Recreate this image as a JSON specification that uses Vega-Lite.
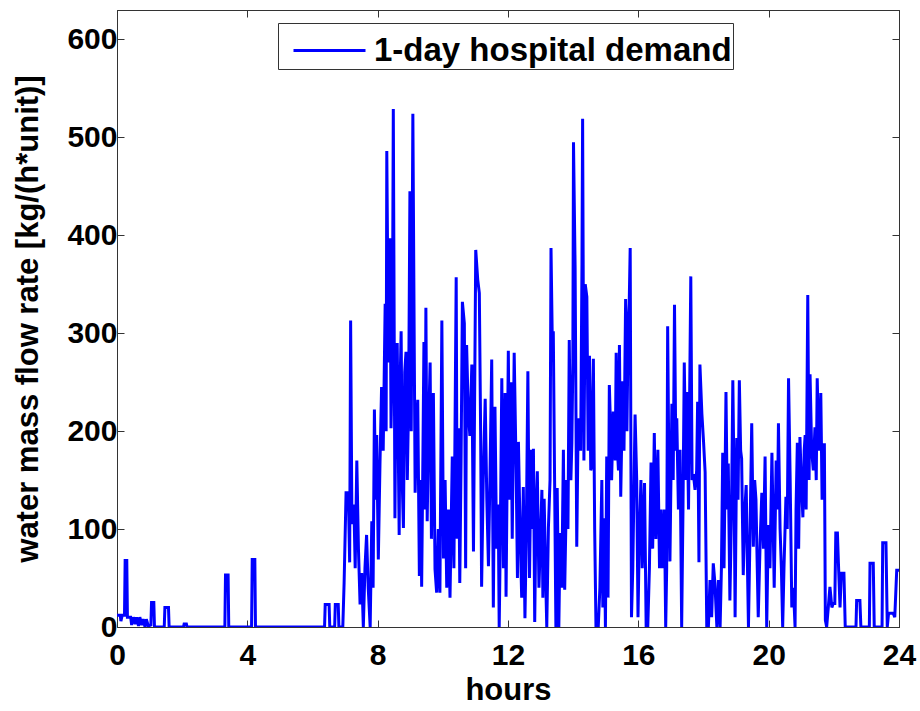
{
  "$schema": "https://vega.github.io/schema/vega-lite/v6.json",
  "width": 782,
  "height": 617,
  "autosize": {"type": "none"},
  "padding": {"left": 117, "top": 10, "right": 21, "bottom": 84},
  "background": "white",
  "config": {
    "view": {"stroke": "#333", "strokeWidth": 1},
    "axis": {
      "grid": false,
      "domainColor": "#333",
      "tickColor": "#333",
      "labelFont": "Liberation Sans",
      "labelFontWeight": "bold",
      "labelFontSize": 30,
      "labelColor": "black",
      "titleFont": "Liberation Sans",
      "titleFontWeight": "bold",
      "titleFontSize": 31,
      "titleColor": "black"
    },
    "legend": {
      "orient": "none",
      "legendX": 161,
      "legendY": 13,
      "strokeColor": "#333",
      "fillColor": "white",
      "padding": 1,
      "symbolType": "M-1.44,0H1.44",
      "symbolSize": 2500,
      "symbolOffset": 24,
      "symbolStrokeWidth": 3,
      "labelOffset": 18,
      "labelFont": "Liberation Sans",
      "labelFontWeight": "bold",
      "labelFontSize": 33,
      "labelColor": "black",
      "labelLimit": 500,
      "title": null
    }
  },
  "data": {"values": [
    {"h":0,"v":12},{"h":0.1,"v":12},{"h":0.12,"v":6},{"h":0.16,"v":12},{"h":0.23,"v":12},{"h":0.25,"v":68},{"h":0.3,"v":68},{"h":0.32,"v":10},{"h":0.42,"v":10},{"h":0.45,"v":2},{"h":0.5,"v":10},{"h":0.56,"v":3},{"h":0.6,"v":10},{"h":0.66,"v":1},{"h":0.7,"v":10},{"h":0.76,"v":2},{"h":0.8,"v":8},{"h":0.86,"v":0},{"h":0.9,"v":8},{"h":0.96,"v":1},{"h":1.04,"v":2},{"h":1.06,"v":25},{"h":1.13,"v":25},{"h":1.15,"v":0},{"h":1.45,"v":0},{"h":1.47,"v":20},{"h":1.58,"v":20},{"h":1.6,"v":0},{"h":2.04,"v":0},{"h":2.06,"v":3},{"h":2.13,"v":3},{"h":2.15,"v":0},{"h":3.31,"v":0},{"h":3.33,"v":53},{"h":3.41,"v":53},{"h":3.43,"v":0},{"h":4.13,"v":0},{"h":4.15,"v":69},{"h":4.23,"v":69},{"h":4.25,"v":0},{"h":6.37,"v":0},
    {"h":6.39,"v":23},{"h":6.51,"v":23},{"h":6.53,"v":0},{"h":6.68,"v":0},{"h":6.70,"v":23},{"h":6.79,"v":23},{"h":6.81,"v":0},{"h":6.93,"v":0},{"h":6.97,"v":45},{"h":7.03,"v":137},{"h":7.10,"v":137},{"h":7.14,"v":66},{"h":7.17,"v":313},{"h":7.21,"v":105},{"h":7.27,"v":125},{"h":7.31,"v":60},{"h":7.36,"v":170},{"h":7.41,"v":80},{"h":7.46,"v":23},{"h":7.51,"v":55},{"h":7.56,"v":0},{"h":7.61,"v":60},{"h":7.66,"v":94},{"h":7.71,"v":40},{"h":7.77,"v":0},{"h":7.82,"v":108},{"h":7.86,"v":40},{"h":7.90,"v":222},{"h":7.94,"v":130},{"h":7.97,"v":196},{"h":8.02,"v":69},{"h":8.07,"v":165},{"h":8.12,"v":245},{"h":8.17,"v":180},{"h":8.23,"v":330},{"h":8.26,"v":200},{"h":8.28,"v":486},{"h":8.33,"v":270},{"h":8.38,"v":397},{"h":8.41,"v":203},{"h":8.45,"v":280},{"h":8.48,"v":529},{"h":8.53,"v":111},{"h":8.56,"v":250},{"h":8.60,"v":290},{"h":8.66,"v":94},{"h":8.69,"v":250},{"h":8.72,"v":302},{"h":8.76,"v":140},{"h":8.79,"v":101},{"h":8.83,"v":260},{"h":8.87,"v":281},{"h":8.91,"v":150},{"h":8.95,"v":230},{"h":8.99,"v":445},{"h":9.03,"v":200},{"h":9.08,"v":524},{"h":9.12,"v":300},{"h":9.15,"v":137},{"h":9.19,"v":200},{"h":9.23,"v":232},{"h":9.28,"v":52},{"h":9.32,"v":150},{"h":9.35,"v":41},{"h":9.39,"v":180},{"h":9.42,"v":291},{"h":9.45,"v":120},{"h":9.48,"v":326},{"h":9.52,"v":108},{"h":9.56,"v":200},{"h":9.61,"v":270},{"h":9.65,"v":90},{"h":9.71,"v":239},{"h":9.76,"v":59},{"h":9.81,"v":35},{"h":9.86,"v":100},{"h":9.91,"v":35},{"h":9.97,"v":313},{"h":10.02,"v":70},{"h":10.07,"v":150},{"h":10.12,"v":40},{"h":10.17,"v":120},{"h":10.22,"v":30},{"h":10.29,"v":174},{"h":10.34,"v":60},{"h":10.41,"v":357},{"h":10.44,"v":90},{"h":10.48,"v":203},{"h":10.52,"v":45},{"h":10.56,"v":170},{"h":10.60,"v":332},{"h":10.66,"v":310},{"h":10.70,"v":60},{"h":10.73,"v":288},{"h":10.78,"v":220},{"h":10.83,"v":195},{"h":10.89,"v":268},{"h":10.94,"v":77},{"h":11.01,"v":385},{"h":11.07,"v":355},{"h":11.12,"v":341},{"h":11.16,"v":200},{"h":11.19,"v":41},{"h":11.24,"v":150},{"h":11.30,"v":233},{"h":11.35,"v":130},{"h":11.40,"v":62},{"h":11.45,"v":160},{"h":11.50,"v":273},{"h":11.55,"v":20},{"h":11.60,"v":225},{"h":11.65,"v":80},{"h":11.70,"v":125},{"h":11.73,"v":0},{"h":11.76,"v":80},{"h":11.81,"v":254},{"h":11.86,"v":60},{"h":11.91,"v":239},{"h":11.94,"v":31},{"h":12.01,"v":282},{"h":12.05,"v":130},{"h":12.09,"v":250},{"h":12.13,"v":90},{"h":12.19,"v":280},{"h":12.25,"v":160},{"h":12.29,"v":50},{"h":12.32,"v":189},{"h":12.37,"v":100},{"h":12.42,"v":30},{"h":12.47,"v":143},{"h":12.52,"v":9},{"h":12.56,"v":90},{"h":12.61,"v":261},{"h":12.66,"v":50},{"h":12.71,"v":181},{"h":12.75,"v":100},{"h":12.78,"v":182},{"h":12.82,"v":5},{"h":12.86,"v":120},{"h":12.90,"v":159},{"h":12.95,"v":40},{"h":13.04,"v":140},{"h":13.07,"v":30},{"h":13.11,"v":131},{"h":13.15,"v":60},{"h":13.19,"v":0},{"h":13.24,"v":101},{"h":13.29,"v":150},{"h":13.32,"v":387},{"h":13.36,"v":290},{"h":13.39,"v":302},{"h":13.43,"v":150},{"h":13.47,"v":0},{"h":13.51,"v":142},{"h":13.56,"v":0},{"h":13.60,"v":96},{"h":13.65,"v":40},{"h":13.70,"v":181},{"h":13.74,"v":38},{"h":13.80,"v":150},{"h":13.84,"v":100},{"h":13.88,"v":293},{"h":13.93,"v":150},{"h":13.96,"v":188},{"h":13.99,"v":270},{"h":14.01,"v":495},{"h":14.06,"v":366},{"h":14.11,"v":82},{"h":14.15,"v":200},{"h":14.18,"v":213},{"h":14.23,"v":180},{"h":14.27,"v":370},{"h":14.29,"v":519},{"h":14.33,"v":170},{"h":14.37,"v":350},{"h":14.42,"v":337},{"h":14.46,"v":180},{"h":14.50,"v":277},{"h":14.54,"v":160},{"h":14.57,"v":164},{"h":14.62,"v":274},{"h":14.66,"v":100},{"h":14.70,"v":0},{"h":14.77,"v":0},{"h":14.82,"v":40},{"h":14.88,"v":150},{"h":14.91,"v":20},{"h":14.95,"v":111},{"h":14.99,"v":0},{"h":15.03,"v":174},{"h":15.07,"v":30},{"h":15.11,"v":247},{"h":15.15,"v":200},{"h":15.18,"v":150},{"h":15.23,"v":220},{"h":15.29,"v":170},{"h":15.32,"v":280},{"h":15.36,"v":180},{"h":15.39,"v":160},{"h":15.42,"v":288},{"h":15.46,"v":133},{"h":15.52,"v":251},{"h":15.56,"v":180},{"h":15.61,"v":335},{"h":15.65,"v":200},{"h":15.69,"v":310},{"h":15.72,"v":330},{"h":15.75,"v":387},{"h":15.79,"v":10},{"h":15.83,"v":60},{"h":15.90,"v":217},{"h":15.95,"v":150},{"h":15.99,"v":10},{"h":16.03,"v":91},{"h":16.08,"v":150},{"h":16.12,"v":60},{"h":16.19,"v":147},{"h":16.24,"v":0},{"h":16.29,"v":0},{"h":16.34,"v":60},{"h":16.39,"v":168},{"h":16.44,"v":80},{"h":16.49,"v":198},{"h":16.54,"v":90},{"h":16.60,"v":181},{"h":16.65,"v":60},{"h":16.70,"v":120},{"h":16.74,"v":60},{"h":16.80,"v":120},{"h":16.84,"v":0},{"h":16.87,"v":60},{"h":16.90,"v":307},{"h":16.94,"v":150},{"h":16.97,"v":67},{"h":17.03,"v":228},{"h":17.07,"v":150},{"h":17.11,"v":329},{"h":17.15,"v":180},{"h":17.18,"v":213},{"h":17.23,"v":120},{"h":17.28,"v":181},{"h":17.33,"v":0},{"h":17.37,"v":120},{"h":17.41,"v":270},{"h":17.46,"v":150},{"h":17.49,"v":240},{"h":17.54,"v":120},{"h":17.61,"v":358},{"h":17.65,"v":150},{"h":17.69,"v":156},{"h":17.74,"v":140},{"h":17.79,"v":160},{"h":17.82,"v":230},{"h":17.86,"v":66},{"h":17.89,"v":268},{"h":17.95,"v":218},{"h":18.00,"v":190},{"h":18.05,"v":158},{"h":18.10,"v":0},
    {"h":18.15,"v":0},{"h":18.20,"v":48},{"h":18.25,"v":10},{"h":18.30,"v":65},{"h":18.35,"v":45},{"h":18.41,"v":0},{"h":18.46,"v":48},{"h":18.51,"v":0},{"h":18.55,"v":60},{"h":18.59,"v":178},{"h":18.63,"v":60},{"h":18.69,"v":240},{"h":18.73,"v":120},{"h":18.76,"v":167},{"h":18.81,"v":27},{"h":18.86,"v":120},{"h":18.90,"v":252},{"h":18.94,"v":140},{"h":18.97,"v":10},{"h":19.02,"v":193},{"h":19.06,"v":130},{"h":19.10,"v":252},{"h":19.14,"v":180},{"h":19.17,"v":172},{"h":19.22,"v":53},{"h":19.27,"v":120},{"h":19.31,"v":145},{"h":19.35,"v":60},{"h":19.38,"v":0},{"h":19.43,"v":100},{"h":19.48,"v":208},{"h":19.53,"v":82},{"h":19.57,"v":150},{"h":19.61,"v":130},{"h":19.65,"v":60},{"h":19.68,"v":10},{"h":19.74,"v":89},{"h":19.79,"v":137},{"h":19.84,"v":80},{"h":19.89,"v":174},{"h":19.94,"v":0},{"h":19.99,"v":104},{"h":20.04,"v":60},{"h":20.10,"v":178},{"h":20.14,"v":100},{"h":20.17,"v":40},{"h":20.23,"v":170},{"h":20.27,"v":120},{"h":20.30,"v":208},{"h":20.35,"v":100},{"h":20.39,"v":60},{"h":20.43,"v":0},{"h":20.47,"v":60},{"h":20.53,"v":133},{"h":20.57,"v":100},{"h":20.61,"v":254},{"h":20.66,"v":150},{"h":20.71,"v":20},{"h":20.76,"v":40},{"h":20.81,"v":0},{"h":20.84,"v":120},{"h":20.88,"v":188},{"h":20.92,"v":80},{"h":20.96,"v":194},{"h":21.00,"v":150},{"h":21.05,"v":112},{"h":21.09,"v":180},{"h":21.12,"v":196},{"h":21.15,"v":120},{"h":21.20,"v":339},{"h":21.24,"v":150},{"h":21.27,"v":258},{"h":21.32,"v":180},{"h":21.37,"v":160},{"h":21.42,"v":204},{"h":21.46,"v":150},{"h":21.49,"v":254},{"h":21.54,"v":180},{"h":21.58,"v":200},{"h":21.60,"v":239},{"h":21.64,"v":130},{"h":21.67,"v":186},{"h":21.71,"v":186},{"h":21.74,"v":7},{"h":21.78,"v":0},{"h":21.83,"v":20},{"h":21.88,"v":41},{"h":21.94,"v":20},{"h":21.98,"v":24},{"h":22.03,"v":24},{"h":22.06,"v":96},{"h":22.11,"v":96},{"h":22.14,"v":66},{"h":22.19,"v":20},{"h":22.23,"v":55},{"h":22.31,"v":55},{"h":22.35,"v":0},{"h":22.68,"v":0},{"h":22.70,"v":27},{"h":22.80,"v":27},{"h":22.83,"v":0},{"h":23.09,"v":0},{"h":23.11,"v":65},{"h":23.21,"v":65},{"h":23.24,"v":0},{"h":23.48,"v":0},{"h":23.50,"v":86},{"h":23.60,"v":86},{"h":23.64,"v":0},{"h":23.68,"v":14},{"h":23.82,"v":14},{"h":23.87,"v":10},{"h":23.93,"v":58},{"h":24.0,"v":58}
  ]},
  "layer": [
    {
      "mark": {"type": "line", "strokeWidth": 3, "clip": true},
      "encoding": {
        "x": {"field": "h", "type": "quantitative",
              "scale": {"domain": [0, 24], "nice": false, "zero": false},
              "axis": {"orient": "bottom", "values": [0, 4, 8, 12, 16, 20, 24], "title": "hours", "tickSize": -7, "labelPadding": 20, "titlePadding": 5, "labelFlush": false}},
        "y": {"field": "v", "type": "quantitative",
              "scale": {"domain": [0, 630], "nice": false},
              "axis": {"orient": "left", "values": [0, 100, 200, 300, 400, 500, 600], "title": "water mass flow rate [kg/(h*unit)]", "tickSize": -7, "labelPadding": 7, "titlePadding": 22, "labelFlush": false}},
        "stroke": {"datum": "1-day hospital demand", "type": "nominal", "scale": {"range": ["#0000ff"]}}
      }
    },
    {
      "mark": {"type": "line", "opacity": 0},
      "encoding": {
        "x": {"field": "h", "type": "quantitative",
              "axis": {"orient": "top", "values": [0, 4, 8, 12, 16, 20, 24], "title": null, "labels": false, "tickSize": -7}},
        "y": {"field": "v", "type": "quantitative",
              "axis": {"orient": "right", "values": [0, 100, 200, 300, 400, 500, 600], "title": null, "labels": false, "tickSize": -7}}
      }
    }
  ],
  "resolve": {"axis": {"x": "independent", "y": "independent"}}
}
